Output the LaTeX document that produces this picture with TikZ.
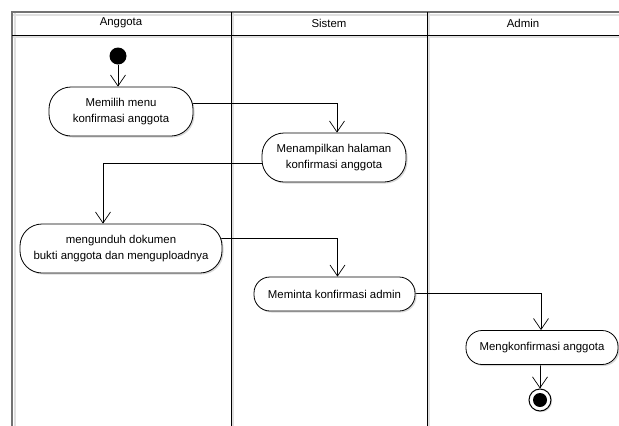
\documentclass[tikz,border=0pt]{standalone}
\usepackage{fontspec}
\setmainfont{Liberation Sans}
\usetikzlibrary{arrows.meta,backgrounds,shadows}
\begin{document}
\begin{tikzpicture}[x=1pt,y=-1pt,
  act/.style={draw, fill=white, line width=0.8pt, align=center,
    font=\fontsize{11.4}{16}\selectfont, inner sep=0pt,
    drop shadow={shadow xshift=1.5pt, shadow yshift=-1.5pt, fill=black!30, opacity=0.5}},
  tall/.style={act, minimum height=49pt, rounded corners=22pt},
  short/.style={act, minimum height=34pt, rounded corners=16pt},
  flow/.style={line width=0.7pt, -{Straight Barb[length=11pt,width=15pt,line width=0.7pt]}},
  lane/.style={line width=0.9pt},
  laneshadow/.style={line width=2pt, black!12},
  head/.style={font=\fontsize{11.4}{13}\selectfont}]
\useasboundingbox (0,0) rectangle (619,426);

\node[head] (hA) at (121,23) {Anggota};
\node[head] (hS) at (329,23) {Sistem};
\node[head] (hD) at (523,23) {Admin};

\node[circle, fill=black, minimum size=17pt, inner sep=0pt] (start) at (118,56) {};
\node[tall, minimum width=144pt] (n1) at (121,111.5) {Memilih menu\\konfirmasi anggota};
\node[tall, minimum width=144pt] (n2) at (334,157.5) {Menampilkan halaman\\konfirmasi anggota};
\node[tall, minimum width=202pt] (n3) at (121,248.5) {mengunduh dokumen\\bukti anggota dan menguploadnya};
\node[short, minimum width=161pt] (n4) at (334.5,294) {Meminta konfirmasi admin};
\node[short, minimum width=152pt] (n5) at (542,347.5) {Mengkonfirmasi anggota};
\node[circle, draw, line width=1pt, fill=white, minimum size=22pt, inner sep=0pt,
  drop shadow={shadow xshift=1.2pt, shadow yshift=-1.2pt, fill=black!30, opacity=0.5}] (end) at (540,400) {};
\node[circle, fill=black, minimum size=14pt, inner sep=0pt] (endin) at (end) {};

\begin{pgfonlayer}{background}
  % frame shadows
  \draw[laneshadow] (14.5,13) -- (14.5,426);
  \draw[laneshadow] (13,14.5) -- (619,14.5);
  \draw[laneshadow] (13,37) -- (619,37);
  \draw[laneshadow] (233.2,13) -- (233.2,426);
  \draw[laneshadow] (429.2,13) -- (429.2,426);
  % frame
  \draw[line width=1.6pt, black!55] (12,426) -- (12,12) -- (619,12);
  \draw[lane] (12,35) -- (619,35);
  \draw[lane] (231,12) -- (231,426);
  \draw[lane] (427,12) -- (427,426);
  % flows
  \draw[flow] (start) -- (start |- n1.north);
  \draw[flow] ([yshift=8.5pt,xshift=-10pt]n1.east) -| ([xshift=3pt]n2.north);
  \draw[flow] ([yshift=-5.5pt,xshift=10pt]n2.west) -| ([xshift=-18pt]n3.north);
  \draw[flow] ([yshift=10.5pt,xshift=-10pt]n3.east) -| ([xshift=3pt]n4.north);
  \draw[flow] ([yshift=1pt,xshift=-10pt]n4.east) -| ([xshift=-1pt]n5.north);
  \draw[flow] (n5.center -| end) -- (end.north);
\end{pgfonlayer}
\end{tikzpicture}
\end{document}
